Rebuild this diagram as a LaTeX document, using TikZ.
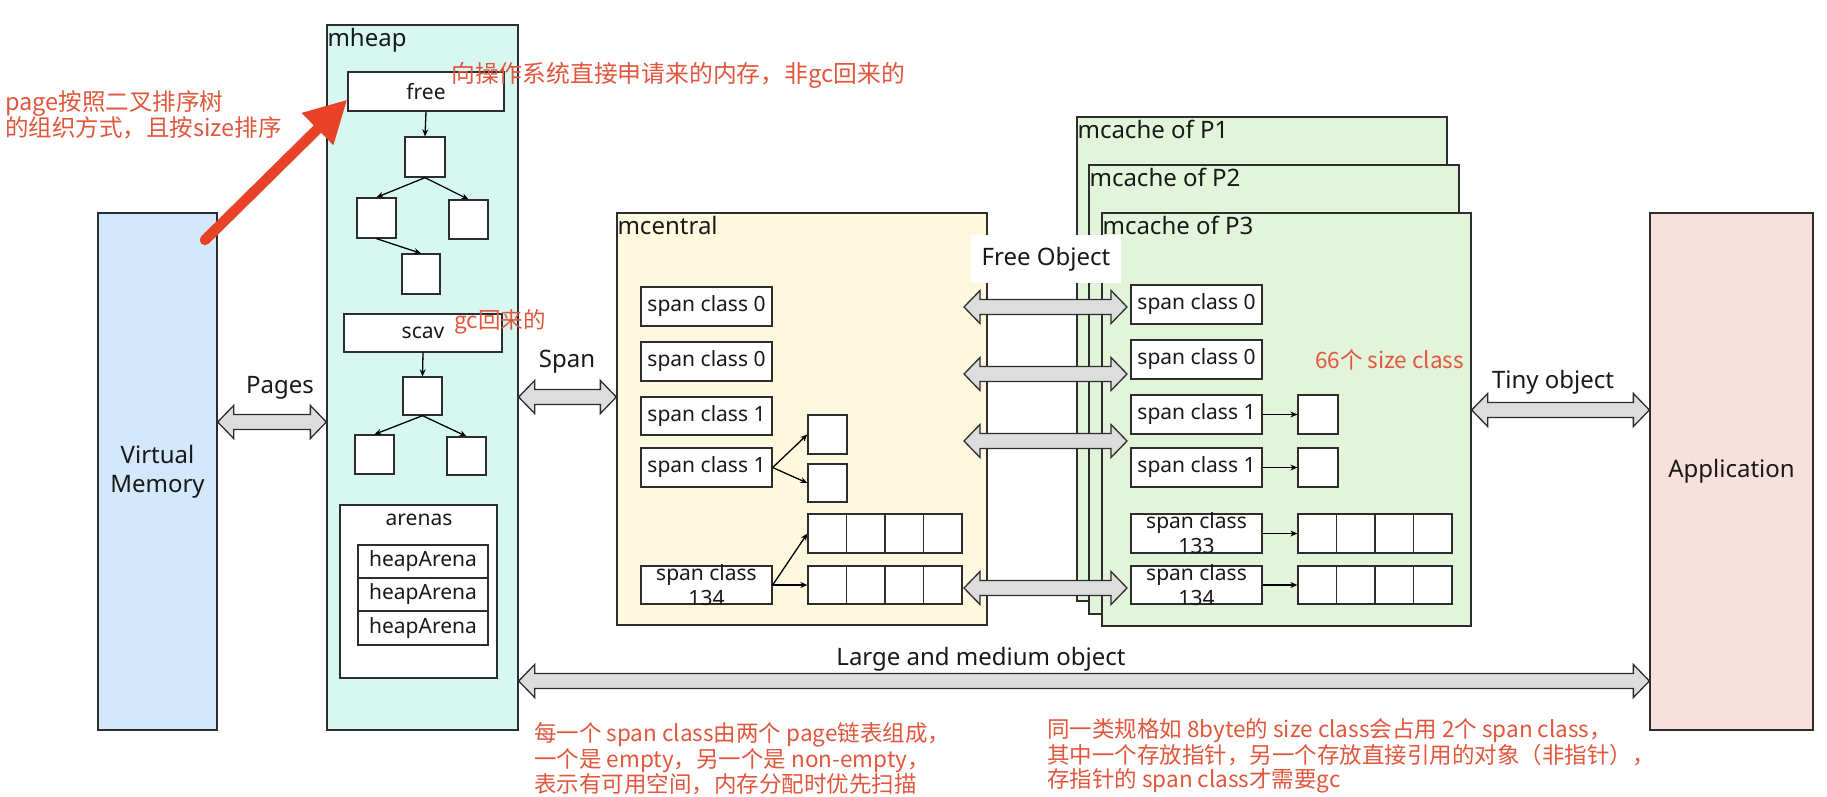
\documentclass[tikz,border=0pt]{standalone}
\usepackage{fontspec}
\setmainfont{Noto Sans}
\newfontfamily\cjk{Noto Sans CJK SC}
\usetikzlibrary{arrows.meta,calc}

\definecolor{ln}{RGB}{45,45,45}
\definecolor{txt}{RGB}{25,25,25}
\definecolor{vmfill}{RGB}{212,232,252}
\definecolor{heapfill}{RGB}{214,248,240}
\definecolor{centralfill}{RGB}{253,248,222}
\definecolor{cachefill}{RGB}{226,244,218}
\definecolor{appfill}{RGB}{248,224,220}
\definecolor{arrfill}{RGB}{221,221,221}
\definecolor{note}{RGB}{226,86,60}
\definecolor{bigred}{RGB}{232,66,40}

\tikzset{
  bx/.style args={#1/#2/#3/#4}{minimum width={(#3-#1)*1pt}, minimum height={(#4-#2)*1pt},
    at={({(#1+#3)/2},{(#2+#4)/2})}},
  region/.style={draw=ln, line width=1.3pt, inner sep=0pt, text=txt},
  wbox/.style={draw=ln, line width=1.3pt, fill=white, inner sep=0pt, text=txt,
    font=\fontsize{21}{25}\selectfont},
  ttl/.style={anchor=north west, inner xsep=1pt, inner ysep=4pt, text=txt,
    font=\fontsize{24}{28}\selectfont},
  big/.style={inner sep=0pt, text=txt, font=\fontsize{24}{28}\selectfont},
  boxtxt/.style={inner sep=0pt, text=txt, align=center, font=\fontsize{21}{25}\selectfont},
  notetxt/.style={text=note, inner sep=0pt, anchor=west, align=left,
    font=\cjk\fontsize{22.5}{24}\selectfont},
  conn/.style={draw=black, line width=1.3pt, -{Stealth[length=7pt,width=6pt]}},
  barrow/.style={draw=ln, fill=arrfill, line width=1.3pt, line join=miter},
}

\newcommand{\dblarrow}[2]{%
  \draw[barrow] let \p1=(#1), \p2=(#2) in
    (\x1,\y1) -- (\x1+16pt,\y1+16.5pt) -- (\x1+16pt,\y1+7.5pt) -- (\x2-16pt,\y2+7.5pt)
    -- (\x2-16pt,\y2+16.5pt) -- (\x2,\y2) -- (\x2-16pt,\y2-16.5pt) -- (\x2-16pt,\y2-7.5pt)
    -- (\x1+16pt,\y1-7.5pt) -- (\x1+16pt,\y1-16.5pt) -- cycle;}

\begin{document}
\begin{tikzpicture}[x=1pt,y=-1pt]
\useasboundingbox[fill=white] (0,0) rectangle (1827,796);

% ---------- Virtual Memory ----------
\node[region, fill=vmfill, bx=98/213/217/730, align=center,
      font=\fontsize{24}{29}\selectfont] (vm) {Virtual\\Memory};

% ---------- mheap ----------
\node[region, fill=heapfill, bx=327/25/518/730] (heap) {};
\node[ttl] (heapt) at (heap.north west) {mheap};
\node[wbox, bx=348/72/504/111] (free) {free};
\node[wbox, bx=405/137/445/177] (t1) {};
\node[wbox, bx=357/198/396/238] (t2) {};
\node[wbox, bx=449/200/488/239] (t3) {};
\node[wbox, bx=402/254/440/294] (t4) {};
\draw[conn] (free.south) -- (t1.north);
\draw[conn] (t1.south) -- (t2.north);
\draw[conn] (t1.south) -- (t3.north);
\draw[conn] (t2.south) -- (t4.north);

\node[wbox, bx=344/314/502/352] (scav) {scav};
\node[wbox, bx=403/377/442/415] (s1) {};
\node[wbox, bx=355/435/394/474] (s2) {};
\node[wbox, bx=447/437/486/475] (s3) {};
\draw[conn] (scav.south) -- (s1.north);
\draw[conn] (s1.south) -- (s2.north);
\draw[conn] (s1.south) -- (s3.north);

\node[wbox, bx=340/505/497/678] (arenas) {};
\node[boxtxt] (arenast) at (419,520) {arenas};
\node[wbox, bx=358/545/488/578] (ha1) {heapArena};
\node[wbox, bx=358/578/488/611] (ha2) {heapArena};
\node[wbox, bx=358/611/488/645] (ha3) {heapArena};

% ---------- mcentral ----------
\node[region, fill=centralfill, bx=617/213/987/625] (mc) {};
\node[ttl] (mct) at (mc.north west) {mcentral};
\node[wbox, bx=641/287/772/326] (ca0) {span class 0};
\node[wbox, bx=641/342/772/381] (cb0) {span class 0};
\node[wbox, bx=641/397/772/435] (ca1) {span class 1};
\node[wbox, bx=641/448/772/487] (cb1) {span class 1};
\node[wbox, bx=641/566/772/604] (c134) {};
\node[boxtxt] (c134t) at (c134.center) {span class\\134};
\node[wbox, bx=808/415/847/454] (csm1) {};
\node[wbox, bx=808/464/847/502] (csm2) {};
\foreach \i/\xa/\xb in {1/808/846.5, 2/846.5/885, 3/885/923.5, 4/923.5/962} {
  \node[wbox, bx=\xa/514/\xb/553] (cra\i) {};
  \node[wbox, bx=\xa/566/\xb/604] (crb\i) {};
}
\draw[conn] (cb1.east) -- (csm1.west);
\draw[conn] (cb1.east) -- (csm2.west);
\draw[conn] (c134.east) -- (cra1.west);
\draw[conn] (c134.east) -- (crb1.west);

% ---------- mcache ----------
\node[region, fill=cachefill, bx=1077/117/1447/601] (p1) {};
\node[ttl] (p1t) at (p1.north west) {mcache of P1};
\node[region, fill=cachefill, bx=1089/165/1459/614] (p2) {};
\node[ttl] (p2t) at (p2.north west) {mcache of P2};
\node[region, fill=cachefill, bx=1102/213/1471/626] (p3) {};
\node[ttl] (p3t) at (p3.north west) {mcache of P3};
\node[wbox, bx=1131/285/1262/324] (ka0) {span class 0};
\node[wbox, bx=1131/340/1262/379] (kb0) {span class 0};
\node[wbox, bx=1131/395/1262/434] (ka1) {span class 1};
\node[wbox, bx=1131/448/1262/487] (kb1) {span class 1};
\node[wbox, bx=1131/514/1262/553] (k133) {};
\node[boxtxt] (k133t) at (k133.center) {span class\\133};
\node[wbox, bx=1131/566/1262/604] (k134) {};
\node[boxtxt] (k134t) at (k134.center) {span class\\134};
\node[wbox, bx=1298/395/1338/434] (ksm1) {};
\node[wbox, bx=1298/448/1338/487] (ksm2) {};
\foreach \i/\xa/\xb in {1/1298/1336.5, 2/1336.5/1375, 3/1375/1413.5, 4/1413.5/1452} {
  \node[wbox, bx=\xa/514/\xb/553] (kra\i) {};
  \node[wbox, bx=\xa/566/\xb/604] (krb\i) {};
}
\draw[conn] (ka1.east) -- (ksm1.west);
\draw[conn] (kb1.east) -- (ksm2.west);
\draw[conn] (k133.east) -- (kra1.west);
\draw[conn] (k134.east) -- (krb1.west);

% ---------- Application ----------
\node[region, fill=appfill, bx=1650/213/1813/730,
      font=\fontsize{24}{28}\selectfont] (app) {Application};

% ---------- block arrows ----------
\coordinate (yPg) at (0,422);
\coordinate (ySp) at (0,397);
\coordinate (yTy) at (0,410);
\coordinate (yLg) at (0,681);
\dblarrow{vm.east |- yPg}{heap.west |- yPg}
\dblarrow{heap.east |- ySp}{mc.west |- ySp}
\dblarrow{p3.east |- yTy}{app.west |- yTy}
\dblarrow{heap.east |- yLg}{app.west |- yLg}
\coordinate (fo1L) at (964,307); \coordinate (fo1R) at (1127,307);
\coordinate (fo2L) at (964,374); \coordinate (fo2R) at (1127,374);
\coordinate (fo3L) at (964,441); \coordinate (fo3R) at (1127,441);
\coordinate (fo4L) at (964,588); \coordinate (fo4R) at (1127,588);
\dblarrow{fo1L}{fo1R}
\dblarrow{fo2L}{fo2R}
\dblarrow{fo3L}{fo3R}
\dblarrow{fo4L}{fo4R}

\node[big] (pagesl) at (280,388) {Pages};
\node[big] (spanl) at (567,362) {Span};
\node[big] (tinyl) at (1553,382) {Tiny object};
\node[big] (largel) at (981,659) {Large and medium object};
\node[fill=white, inner sep=0pt, bx=971/235/1121/283, text=txt,
      font=\fontsize{24}{28}\selectfont] (fo) {Free Object};

% ---------- red annotations ----------
\coordinate (rtail) at (205,240);
\draw[bigred, line width=10.5pt, line cap=round, -{Triangle[length=42pt,width=42pt]}]
  (rtail) -- ($(free.south west)!0.3!(free.north west)$);
\node[notetxt, font=\cjk\fontsize{23.5}{26}\selectfont] (n1) at (5,115)
  {page按照二叉排序树\\的组织方式，且按size排序};
\node[notetxt, font=\cjk\fontsize{23.8}{26}\selectfont] (n2) at (451,75)
  {向操作系统直接申请来的内存，非gc回来的};
\node[notetxt] (n3) at (454,322) {gc回来的};
\node[notetxt] (n4) at (1315,360) {66个 size class};
\node[notetxt, font=\cjk\fontsize{22.5}{23.5}\selectfont] (n5) at (534,759)
  {每一个 span class由两个 page链表组成，\\一个是 empty，另一个是 non-empty，\\表示有可用空间，内存分配时优先扫描};
\node[notetxt, font=\cjk\fontsize{22.5}{24.5}\selectfont] (n6) at (1047,756)
  {同一类规格如 8byte的 size class会占用 2个 span class，\\其中一个存放指针，另一个存放直接引用的对象（非指针），\\存指针的 span class才需要gc};
\end{tikzpicture}
\end{document}
